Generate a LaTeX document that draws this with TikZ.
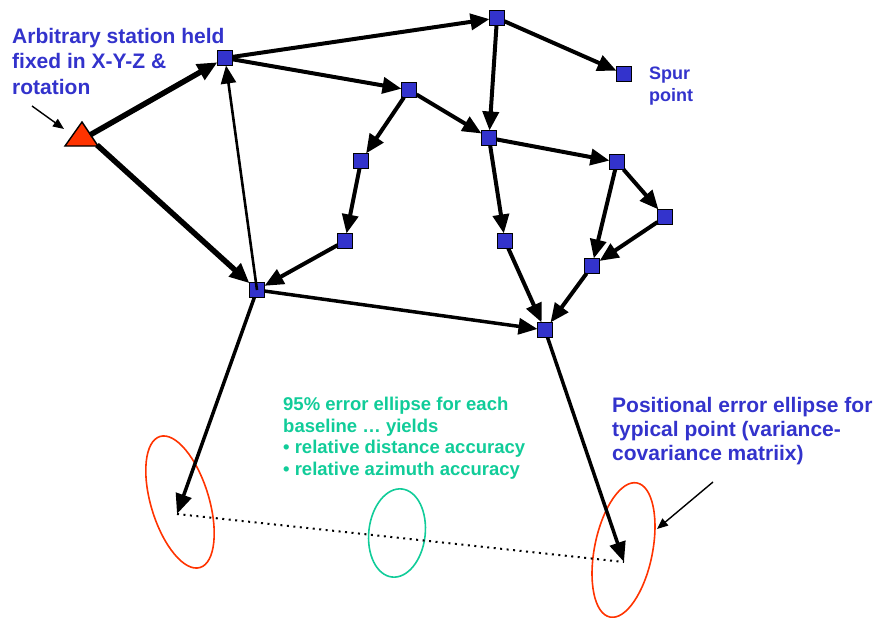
\documentclass[tikz,border=0pt]{standalone}
\usepackage{fontspec}
\setmainfont{Liberation Sans}
\usetikzlibrary{arrows.meta}
\definecolor{nodeblue}{RGB}{51,51,204}
\definecolor{txtgreen}{RGB}{17,204,153}
\definecolor{trired}{RGB}{255,51,0}
\begin{document}
\begin{tikzpicture}[x=1pt,y=-1pt,
  station/.style={draw=black, line width=1.8pt, fill=nodeblue, minimum size=15pt, inner sep=0pt, outer sep=0pt},
  link/.style={line width=4pt, -{Triangle[length=19pt,width=16pt]}},
  heavylink/.style={line width=5.5pt, -{Triangle[length=20pt,width=17pt]}},
  thinlink/.style={line width=2.6pt, -{Triangle[length=18pt,width=15pt]}},
  pointer/.style={line width=1.4pt, -{Triangle[length=11pt,width=9pt]}},
  errell/.style={line width=1.6pt},
  bluetxt/.style={text=nodeblue, font=\bfseries\fontsize{21}{25.5}\selectfont, align=left, anchor=north west, inner sep=0pt},
]
\useasboundingbox (0,0) rectangle (876,618);

% error ellipses
\draw[errell, trired, rotate around={17:(180,502)}] (180,502) ellipse (29 and 68.5);
\draw[errell, trired, rotate around={-11.4:(623.5,550)}] (623.5,550) ellipse (29 and 68.4);
\draw[errell, txtgreen, rotate around={-6.5:(397,533)}] (397,533) ellipse (28.2 and 44.3);

% fixed station (triangle)
\draw[fill=trired, line width=1.4pt, line join=miter] (82,122) -- (98,146) -- (65,146) -- cycle;
\coordinate (A1) at (90,135);
\coordinate (A2) at (97,145);

% stations
\node[station] (B) at (225,58) {};
\node[station] (C) at (497,18) {};
\node[station] (D) at (409,90) {};
\node[station] (E) at (489,138) {};
\node[station] (F) at (624,74) {};
\node[station] (G) at (361,161) {};
\node[station] (H) at (617,162) {};
\node[station] (I) at (665,217) {};
\node[station] (J) at (345,241) {};
\node[station] (K) at (505,241) {};
\node[station] (L) at (592,266) {};
\node[station] (M) at (257,290) {};
\node[station] (N) at (545,330) {};

\coordinate (P1) at (177,514);
\coordinate (P2) at (624,562);

% connectors
\draw[heavylink] (A1) -- (B);
\draw[heavylink] (A2) -- (M);
\draw[thinlink] (M.center) -- (B);
\draw[link] (B) -- (C);
\draw[link] (B) -- (D);
\draw[link] (C) -- (E);
\draw[link] (C) -- (F);
\draw[link] (D) -- (G);
\draw[link] (D) -- (E);
\draw[link] (G) -- (J);
\draw[link] (J) -- (M);
\draw[link] (E) -- (K);
\draw[link] (E) -- (H);
\draw[link] (H) -- (I);
\draw[link] (H) -- (L);
\draw[link] (I) -- (L);
\draw[link] (K) -- (N);
\draw[link] (L) -- (N);
\draw[line width=3.5pt, -{Triangle[length=19pt,width=16pt]}] (M) -- (N);
\draw[line width=3.5pt, -{Triangle[length=20pt,width=16pt]}] (M) -- (P1);
\draw[line width=3.5pt, -{Triangle[length=20pt,width=16pt]}] (N) -- (P2);
\draw[line width=2pt, dash pattern=on 2pt off 4.5pt] (P1) -- (P2);

% labels
\node[bluetxt] (T1) at (12,28) {Arbitrary station held\\fixed in X-Y-Z \&\\rotation};
\node[text=nodeblue, font=\bfseries\fontsize{18}{21.5}\selectfont, align=left, anchor=north west, inner sep=0pt] (T2) at (649,67) {Spur\\point};
\node[text=txtgreen, font=\bfseries\fontsize{18.5}{21.7}\selectfont, align=left, anchor=north west, inner sep=0pt] (T3) at (283,396.7) {95\% error ellipse for each\\baseline … yields\\• relative distance accuracy\\• relative azimuth accuracy};
\node[bluetxt, font=\bfseries\fontsize{21}{24}\selectfont] (T4) at (612,397) {Positional error ellipse for\\typical point (variance-\\covariance matriix)};

\coordinate (Q1) at (32,106);
\coordinate (Q2) at (64,129);
\draw[pointer] (Q1) -- (Q2);
\coordinate (R1) at (713,482);
\coordinate (R2) at (657,529);
\draw[pointer] (R1) -- (R2);
\end{tikzpicture}
\end{document}
